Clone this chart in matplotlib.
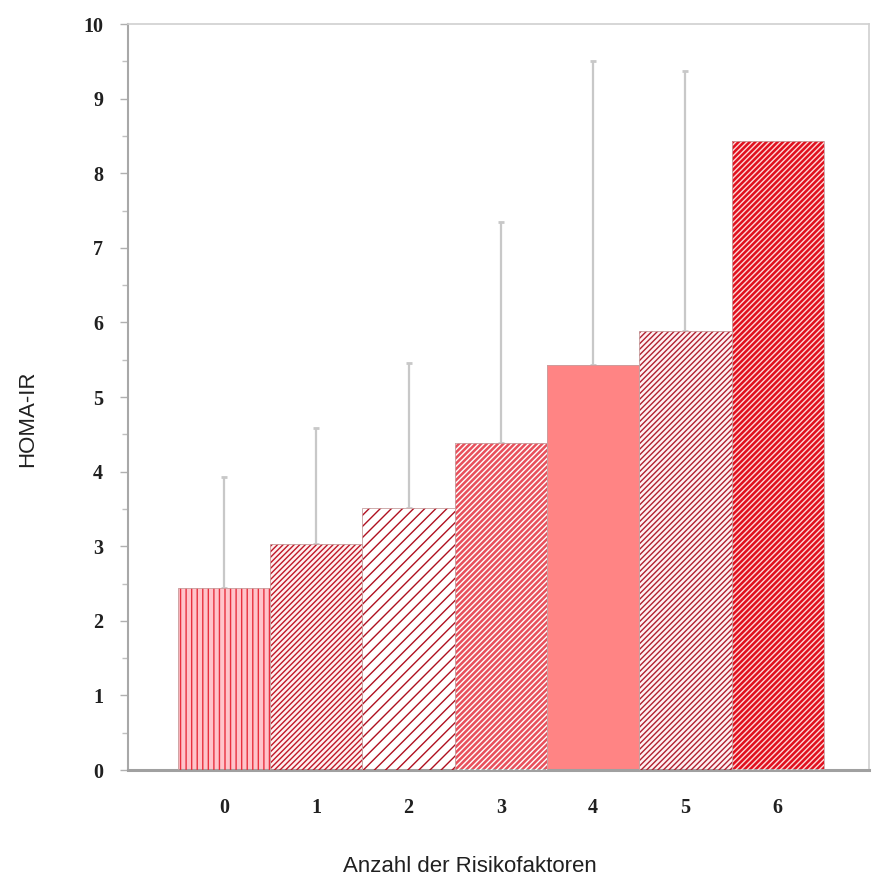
import matplotlib
matplotlib.use("Agg")
import matplotlib.pyplot as plt
from matplotlib.ticker import MultipleLocator

categories = ["0", "1", "2", "3", "4", "5", "6"]
means = [2.44, 3.03, 3.51, 4.38, 5.43, 5.88, 8.43]
upper = [3.93, 4.58, 5.46, 7.35, 9.50, 9.37, None]
y_ticks = [0, 1, 2, 3, 4, 5, 6, 7, 8, 9, 10]

faces = ["#ffc4ca", "#fff0f0", "#ffffff", "#e8505c", "#ff8484", "#fff0f2", "#e0101e"]
hatch_cols = ["#e8303e", "#c01828", "#b01020", "#ffffff", None, "#b02030", "#ffd8d8"]
hatches = ["|||", "//////", "///", "//////", None, "//////", "//////"]

plt.rcParams["hatch.linewidth"] = 1.0

fig = plt.figure(figsize=(8.74, 8.86), dpi=100)
ax = fig.add_axes([0.1465, 0.1309, 0.8478, 0.8420])

xs = list(range(len(categories)))
for i, x in enumerate(xs):
    ax.bar(x, means[i], width=1.0, color=faces[i], edgecolor="none", zorder=2)
    if hatches[i]:
        ax.bar(x, means[i], width=1.0, color="none", edgecolor=hatch_cols[i],
               hatch=hatches[i], linewidth=0, zorder=3)
    ax.bar(x, means[i], width=1.0, color="none", edgecolor="#c8a0a0",
           linewidth=0.6, zorder=4)
    if upper[i] is not None:
        ax.errorbar(x, means[i], yerr=[[0], [upper[i] - means[i]]], fmt="none",
                    ecolor="#c8c8c8", elinewidth=1.6, capsize=2.5, capthick=2,
                    zorder=1)

ax.set_xlim(-1.04, 6.99)
ax.set_ylim(0, 10)
ax.set_xticks(xs)
ax.set_xticklabels(categories)
ax.set_yticks(y_ticks)
ax.set_yticklabels([str(v) for v in y_ticks])
ax.yaxis.set_minor_locator(MultipleLocator(0.5))

for lab in ax.get_xticklabels() + ax.get_yticklabels():
    lab.set_fontfamily("Liberation Serif")
    lab.set_fontweight("bold")
    lab.set_fontsize(14.5)
    lab.set_color("#202020")

ax.tick_params(axis="x", length=0, pad=20)
ax.tick_params(axis="y", which="major", length=6, width=1, color="#b0b0b0", pad=12)
ax.tick_params(axis="y", which="minor", length=4, width=1, color="#c0c0c0")

for s in ["top", "right"]:
    ax.spines[s].set_color("#d0d0d0")
    ax.spines[s].set_linewidth(1.2)
ax.spines["left"].set_color("#a8a8a8")
ax.spines["left"].set_linewidth(1.5)
ax.spines["bottom"].set_color("#a0a0a0")
ax.spines["bottom"].set_linewidth(2.2)

fig.text(0.032, 0.527, "HOMA-IR", rotation=90, ha="center", va="center",
         fontsize=16, fontfamily="Liberation Sans", color="#202020")
fig.text(0.538, 0.022, "Anzahl der Risikofaktoren", ha="center", va="center",
         fontsize=16, fontfamily="Liberation Sans", color="#202020")

fig.savefig("out.png", dpi=100)
